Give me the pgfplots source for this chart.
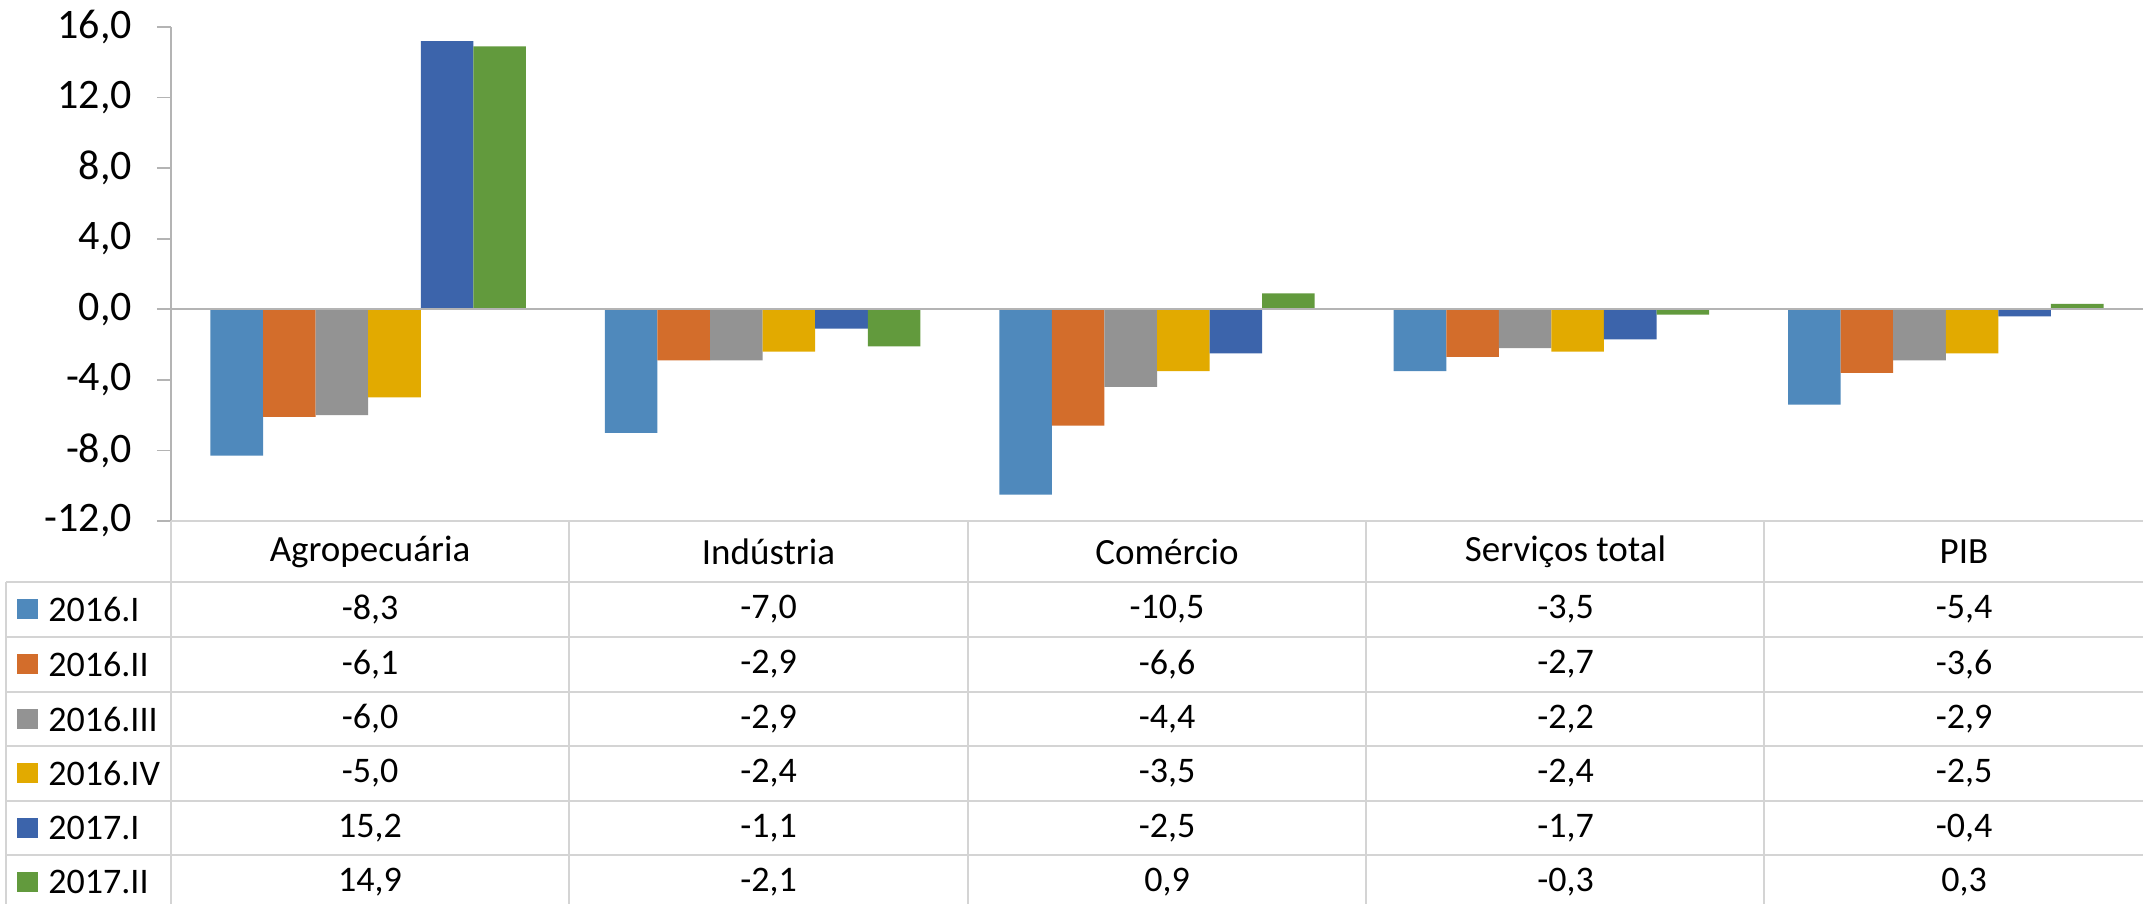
\documentclass[border=0pt]{standalone}
\usepackage{pgfplots}
\pgfplotsset{compat=1.18}
\usepackage{fontspec}
\setmainfont{Carlito}
\definecolor{cA}{HTML}{4F89BC}
\definecolor{cB}{HTML}{D36D2B}
\definecolor{cC}{HTML}{939393}
\definecolor{cD}{HTML}{E2AA00}
\definecolor{cE}{HTML}{3C64AB}
\definecolor{cF}{HTML}{629A3D}
\definecolor{axgray}{HTML}{B4B4B4}
\definecolor{tblgray}{HTML}{D4D4D4}
\begin{document}
\begin{tikzpicture}
\path[use as bounding box] (0,0) rectangle (1071.5pt,452pt);
\begin{axis}[
  at={(85.5pt,191.5pt)}, anchor=south west,
  scale only axis, width=986pt, height=247pt,
  xmin=-0.5, xmax=4.5, ymin=-12, ymax=16,
  ybar=0pt, bar width=0.1333,
  axis x line=none, axis y line*=left,
  axis line style={axgray, line width=0.8pt},
  ytick={-12,-8,...,16},
  tick align=outside, major tick length=7pt,
  tick style={axgray, line width=0.8pt},
  yticklabel style={font=\fontsize{21}{25}\selectfont, xshift=-9pt, /pgf/number format/.cd, fixed, fixed zerofill, precision=1, use comma, assume math mode=true},
  xtick=\empty,
  clip=false,
]
\addplot[fill=cA, draw=none] coordinates {(0,-8.3) (1,-7.0) (2,-10.5) (3,-3.5) (4,-5.4)};
\addplot[fill=cB, draw=none] coordinates {(0,-6.1) (1,-2.9) (2,-6.6) (3,-2.7) (4,-3.6)};
\addplot[fill=cC, draw=none] coordinates {(0,-6.0) (1,-2.9) (2,-4.4) (3,-2.2) (4,-2.9)};
\addplot[fill=cD, draw=none] coordinates {(0,-5.0) (1,-2.4) (2,-3.5) (3,-2.4) (4,-2.5)};
\addplot[fill=cE, draw=none] coordinates {(0,15.2) (1,-1.1) (2,-2.5) (3,-1.7) (4,-0.4)};
\addplot[fill=cF, draw=none] coordinates {(0,14.9) (1,-2.1) (2,0.9) (3,-0.3) (4,0.3)};
\draw[axgray, line width=1.2pt] (axis cs:-0.5,0) -- (axis cs:4.5,0);
\end{axis}
\begin{scope}[yshift=452pt, x=0.5pt, y=-0.5pt]
\tikzset{tbl/.style={tblgray, line width=0.9pt}}
\draw[tbl] (171,521) -- (2143,521);
\foreach \yy in {582,637,692,746,801,855} \draw[tbl] (6,\yy) -- (2143,\yy);
\foreach \xx in {569,968,1366,1764} \draw[tbl] (\xx,521) -- (\xx,904);
\draw[tbl] (171,521) -- (171,904);
\draw[tbl] (6,582) -- (6,904);
\tikzset{tt/.style={font=\fontsize{18}{21}\selectfont, inner sep=0pt}}
\foreach \lab [count=\i from 0] in {Agropecuária,Indústria,Comércio,Serviços total,PIB}
  \node[tt, font=\fontsize{18.5}{21}\selectfont] at ({370+398.5*\i},552) {\lab};
\foreach \c/\lab/\yy in {cA/2016.I/609.5, cB/2016.II/664.5, cC/2016.III/719, cD/2016.IV/773.5, cE/2017.I/828, cF/2017.II/882}{
  \fill[\c] (17,\yy-10) rectangle (38,\yy+10);
  \node[tt, anchor=west] at (48,\yy) {\lab};
}
\node[tt] at (370,609.5) {-8,3};
\node[tt] at (768.5,609.5) {-7,0};
\node[tt] at (1167,609.5) {-10,5};
\node[tt] at (1565.5,609.5) {-3,5};
\node[tt] at (1964,609.5) {-5,4};
\node[tt] at (370,664.5) {-6,1};
\node[tt] at (768.5,664.5) {-2,9};
\node[tt] at (1167,664.5) {-6,6};
\node[tt] at (1565.5,664.5) {-2,7};
\node[tt] at (1964,664.5) {-3,6};
\node[tt] at (370,719) {-6,0};
\node[tt] at (768.5,719) {-2,9};
\node[tt] at (1167,719) {-4,4};
\node[tt] at (1565.5,719) {-2,2};
\node[tt] at (1964,719) {-2,9};
\node[tt] at (370,773.5) {-5,0};
\node[tt] at (768.5,773.5) {-2,4};
\node[tt] at (1167,773.5) {-3,5};
\node[tt] at (1565.5,773.5) {-2,4};
\node[tt] at (1964,773.5) {-2,5};
\node[tt] at (370,828) {15,2};
\node[tt] at (768.5,828) {-1,1};
\node[tt] at (1167,828) {-2,5};
\node[tt] at (1565.5,828) {-1,7};
\node[tt] at (1964,828) {-0,4};
\node[tt] at (370,882) {14,9};
\node[tt] at (768.5,882) {-2,1};
\node[tt] at (1167,882) {0,9};
\node[tt] at (1565.5,882) {-0,3};
\node[tt] at (1964,882) {0,3};
\end{scope}
\end{tikzpicture}
\end{document}
